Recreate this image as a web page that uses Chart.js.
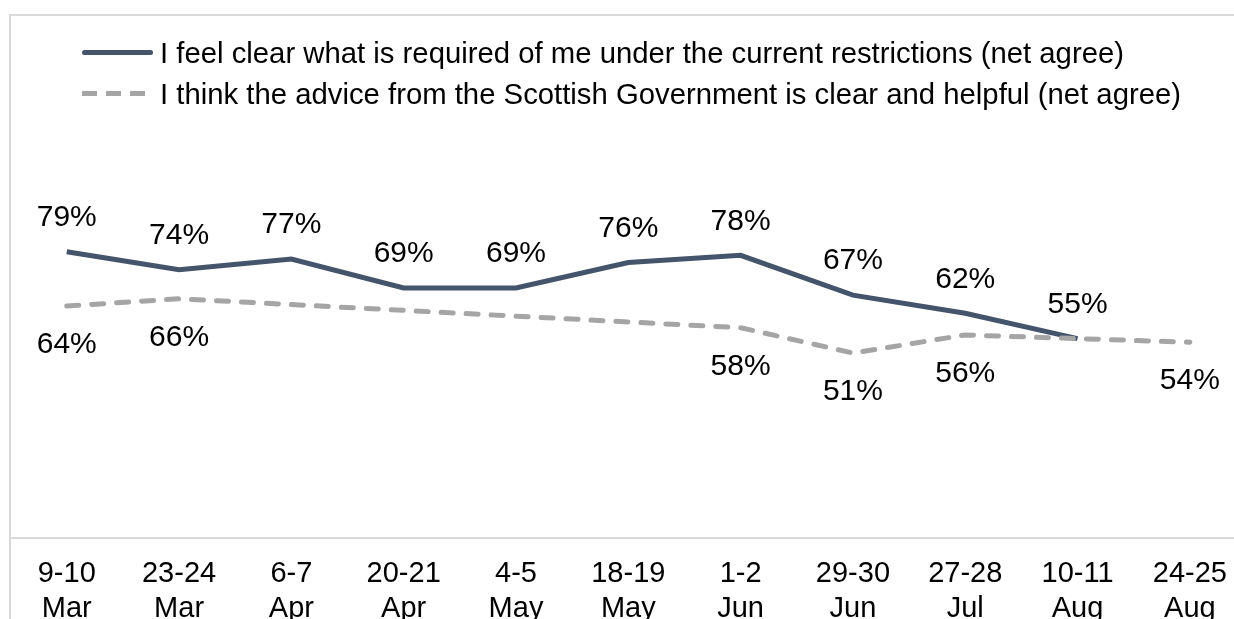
<!DOCTYPE html>
<html>
<head>
<meta charset="utf-8">
<script src="https://cdn.jsdelivr.net/npm/chart.js@4.4.1/dist/chart.umd.min.js"></script>
<style>
  html, body { margin: 0; padding: 0; background: #fff; overflow: hidden; }
  body { width: 1234px; height: 619px; position: relative; font-family: "Liberation Sans", Arial, sans-serif; }
  #frame { position: absolute; left: 9px; top: 14px; width: 1300px; height: 700px;
           border-top: 2px solid #d9d9d9; border-left: 2px solid #d9d9d9; }
  #canvas { position: absolute; left: 0; top: 0; }
  #legend { position: absolute; left: 82px; top: 32px; font-size: 29.3px; color: #000; }
  .row { display: flex; align-items: center; height: 41px; white-space: nowrap; }
  .swatch { width: 71px; height: 5px; margin-right: 7px; border-radius: 3px; }
  .solid { background: #44546a; }
  .dash { width: 63px; margin-right: 15px; border-radius: 0;
          background: repeating-linear-gradient(to right, #a5a5a5 0 15px, transparent 15px 24px); }
</style>
</head>
<body>
<div id="frame"></div>
<canvas id="canvas" width="1260" height="660"></canvas>
<div id="legend"></div>
<script>
// survey waves
var waves = [['9-10', 'Mar'], ['23-24', 'Mar'], ['6-7', 'Apr'], ['20-21', 'Apr'], ['4-5', 'May'],
             ['18-19', 'May'], ['1-2', 'Jun'], ['29-30', 'Jun'], ['27-28', 'Jul'], ['10-11', 'Aug'], ['24-25', 'Aug']];

// net agree, %
var clearRequired = [79, 74, 77, 69, 69, 76, 78, 67, 62, 55, null];
var adviceHelpful = [64, 66, null, null, null, null, 58, 51, 56, null, 54];

var seriesNames = [
    'I feel clear what is required of me under the current restrictions (net agree)',
    'I think the advice from the Scottish Government is clear and helpful (net agree)'
];

var FONT = '"Liberation Sans", Arial, sans-serif';

// legend built by hand so it can sit indented at the left
var lg = document.getElementById('legend');
lg.innerHTML =
    '<div class="row"><span class="swatch solid"></span>' + seriesNames[0] + '</div>' +
    '<div class="row"><span class="swatch dash"></span>' + seriesNames[1] + '</div>';

// value labels: solid series above the line, dashed one below
var pctLabels = {
    id: 'pctLabels',
    afterDatasetsDraw: function (chart) {
        var ctx = chart.ctx;
        ctx.save();
        ctx.font = '30px ' + FONT;
        ctx.fillStyle = '#000';
        ctx.textAlign = 'center';
        ctx.textBaseline = 'middle';
        chart.data.datasets.forEach(function (ds, i) {
            var meta = chart.getDatasetMeta(i);
            meta.data.forEach(function (pt, j) {
                var v = ds.data[j];
                if (v === null) return;
                var dy = i === 0 ? -34 : 39;
                ctx.fillText(v + '%', pt.x, pt.y + dy);
            });
        });
        ctx.restore();
    }
};

new Chart(document.getElementById('canvas'), {
    type: 'line',
    data: {
        labels: waves,
        datasets: [{
            label: seriesNames[0],
            data: clearRequired,
            borderColor: '#44546a',
            borderWidth: 5,
            pointRadius: 0,
            tension: 0,
            order: 1
        }, {
            label: seriesNames[1],
            data: adviceHelpful,
            borderColor: '#a5a5a5',
            borderWidth: 5,
            borderDash: [12, 13],
            borderCapStyle: 'round',
            pointRadius: 0,
            tension: 0,
            spanGaps: true,
            order: 0
        }]
    },
    options: {
        responsive: false,
        devicePixelRatio: 1,
        animation: false,
        layout: { padding: { left: 10.6, right: 14, top: 175.7, bottom: 0 } },
        plugins: { legend: { display: false }, tooltip: { enabled: false } },
        scales: {
            x: {
                offset: true,
                grid: { display: false, drawTicks: false },
                border: { display: true, color: '#d9d9d9', width: 2 },
                ticks: { color: '#000', padding: 19, maxRotation: 0, autoSkip: false,
                         font: { family: FONT, size: 29 } },
                afterFit: function (scale) { scale.height = 660 - 537.7; }
            },
            y: {
                display: false,
                min: 0,
                max: 100
            }
        }
    },
    plugins: [pctLabels]
});
</script>
</body>
</html>
